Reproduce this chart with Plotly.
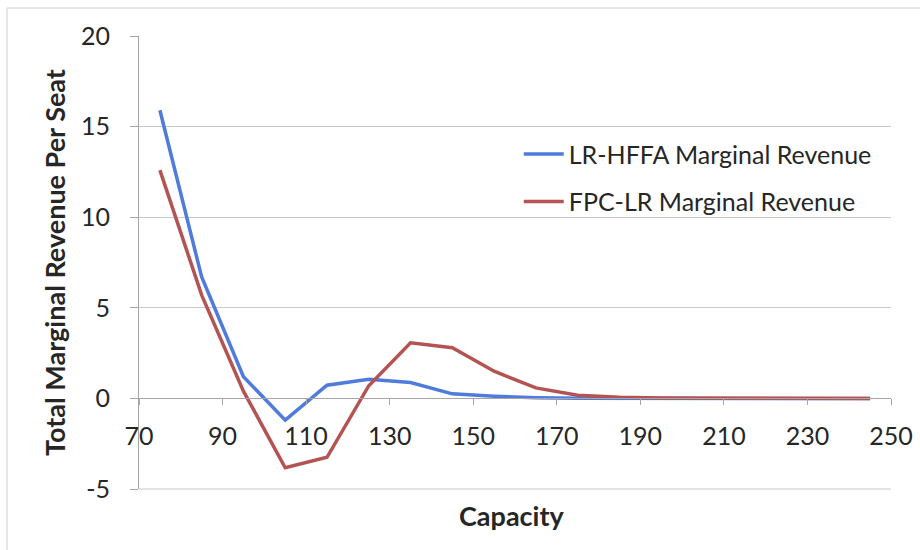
import plotly.graph_objects as go

# Seat capacity levels and marginal revenue per added seat for each model
capacity = [75, 85, 95, 105, 115, 125, 135, 145, 155, 165, 175, 185, 195, 205, 215, 225, 235, 245]
lr_hffa = [15.9, 6.7, 1.2, -1.2, 0.73, 1.05, 0.88, 0.25, 0.12, 0.04, 0.01, 0.0, 0.0, 0.0, 0.0, 0.0, 0.0, 0.0]
fpc_lr = [12.6, 5.7, 0.4, -3.83, -3.25, 0.7, 3.07, 2.8, 1.5, 0.58, 0.18, 0.06, 0.02, 0.01, 0.01, 0.01, 0.01, 0.0]

series_names = ["LR-HFFA Marginal Revenue", "FPC-LR Marginal Revenue"]
x_ticks = [70, 90, 110, 130, 150, 170, 190, 210, 230, 250]
y_ticks = [-5, 0, 5, 10, 15, 20]

FONT = "Lato, 'Open Sans', sans-serif"
BLUE = "#4f7bdc"
RED = "#b35452"
TEXT = "#262626"

fig = go.Figure()
fig.add_trace(go.Scatter(x=capacity, y=lr_hffa, mode="lines", name=series_names[0],
                         line=dict(color=BLUE, width=3.5), legendgroup="a"))
fig.add_trace(go.Scatter(x=capacity, y=fpc_lr, mode="lines", name=series_names[1],
                         line=dict(color=RED, width=3.5), legendgroup="b"))

L, R, T, B = 139, 29, 36, 61
W, H = 920, 550
pw, ph = W - L - R, H - T - B

fig.update_layout(
    width=W, height=H,
    margin=dict(l=L, r=R, t=T, b=B),
    paper_bgcolor="white", plot_bgcolor="white",
    font=dict(family=FONT, color=TEXT),
    showlegend=True,
    legend=dict(x=0.505, y=0.79, xanchor="left", yanchor="top",
                font=dict(size=25, color=TEXT), bgcolor="rgba(0,0,0,0)",
                tracegroupgap=12, itemwidth=40),
    xaxis=dict(range=[70, 250], tickvals=x_ticks, showgrid=False, zeroline=False,
               showline=True, linecolor="#a6a6a6", linewidth=1,
               ticks="outside", ticklen=6, tickcolor="#a6a6a6",
               anchor="free", position=5 / 25, ticklabelstandoff=10,
               automargin=False, tickfont=dict(size=25, color=TEXT)),
    yaxis=dict(range=[-5, 20], tickvals=y_ticks, ticktext=[str(v) for v in y_ticks],
               showgrid=True, gridcolor="#c9c9c9",
               zeroline=False, showline=True, linecolor="#a6a6a6", linewidth=1,
               ticks="outside", ticklen=8, tickcolor="#a6a6a6",
               ticklabelstandoff=15, automargin=False, tickfont=dict(size=25, color=TEXT),
               title=dict(text="Total Marginal Revenue Per Seat", standoff=7,
                          font=dict(size=27, family=FONT, weight="bold", color=TEXT))),
    annotations=[dict(text="<b>Capacity</b>", xref="paper", yref="paper",
                      x=(512 - L) / pw, y=-(515 - (H - B)) / ph,
                      xanchor="center", yanchor="middle", showarrow=False,
                      font=dict(size=27, family=FONT, color=TEXT))],
    shapes=[
        # bottom edge of the plotting area at y = -5
        dict(type="line", xref="paper", yref="paper",
             x0=0, x1=1, y0=0, y1=0, line=dict(color="#c9c9c9", width=1)),
        # chart-area frame (top and left edges)
        dict(type="line", xref="paper", yref="paper",
             x0=(7 - L) / pw, x1=(W - L) / pw, y0=(H - B - 8) / ph, y1=(H - B - 8) / ph,
             line=dict(color="#d0d0d0", width=1)),
        dict(type="line", xref="paper", yref="paper",
             x0=(7 - L) / pw, x1=(7 - L) / pw, y0=-B / ph, y1=(H - B - 8) / ph,
             line=dict(color="#d0d0d0", width=1)),
    ],
)

fig.write_html("out.html")
